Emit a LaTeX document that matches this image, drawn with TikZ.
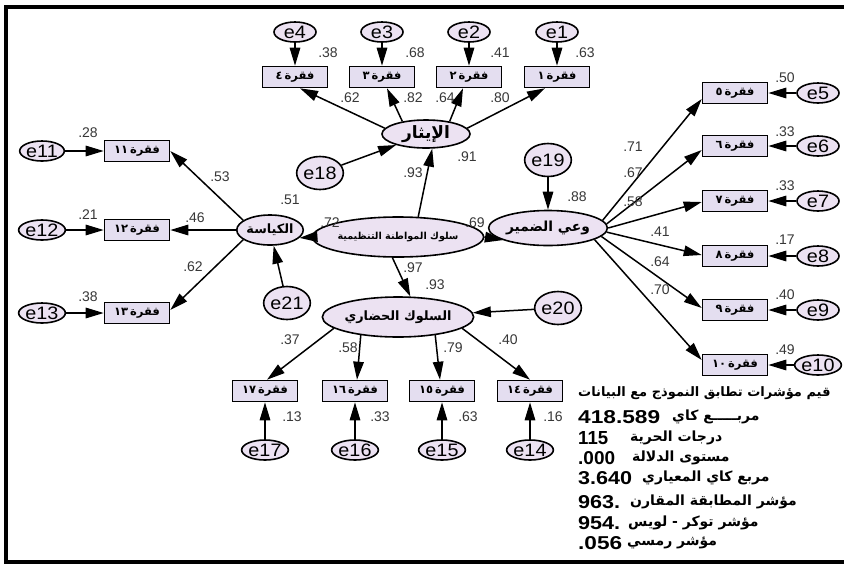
\documentclass[tikz,border=0pt]{standalone}
\usepackage{fontspec}
\setmainfont{Liberation Sans}
\newfontfamily\arfont[Script=Arabic]{DejaVu Sans}
\newfontfamily\widesans[FakeStretch=1.1]{Liberation Sans}
\TeXXeTstate=1
\usetikzlibrary{arrows.meta,shapes.geometric,calc}
\definecolor{efill}{RGB}{236,226,242}
\definecolor{ifill}{RGB}{228,222,240}
\definecolor{labc}{RGB}{55,55,55}
\newcommand\arw[2]{\resizebox{#1pt}{!}{\arfont\bfseries #2}}
\newcommand\itm[1]{{\arfont\bfseries #1\,\beginR فقرة\endR}}
\newcommand\numw[2]{\resizebox{#1pt}{13pt}{\bfseries #2}}
\begin{document}
\begin{tikzpicture}[x=1pt,y=-1pt,
  lat/.style={ellipse,draw,line width=1.6pt,fill=efill,inner sep=0pt},
  err/.style={ellipse,draw,line width=1.6pt,fill=efill,inner sep=0pt,minimum width=42pt,minimum height=20pt,font=\widesans\fontsize{18}{18}\selectfont},
  errc/.style={err,minimum width=36pt,minimum height=33pt},
  itembox/.style={rectangle,draw,line width=1.6pt,fill=ifill,inner sep=0pt,minimum width=65pt,minimum height=21pt,font=\fontsize{11.5}{11.5}\selectfont},
  lbl/.style={inner sep=0pt,text=labc,font=\fontsize{14}{14}\selectfont},
  arr/.style={draw,line width=1.5pt,-{Triangle[length=18pt,width=10.5pt]}},
  tnum/.style={anchor=west,inner sep=0pt},
  tlab/.style={anchor=west,inner sep=0pt,font=\arfont\bfseries\fontsize{14}{14}\selectfont},
  ttitle/.style={anchor=west,inner sep=0pt,font=\arfont\bfseries\fontsize{13}{13}\selectfont}
]
\useasboundingbox (0,0) rectangle (844,566);
\fill[white] (0,0) rectangle (844,566);
\draw[line width=4pt] (844,6.5) -- (5.5,6.5) -- (5.5,562) -- (844,562);

% latent variables
\node[lat,minimum width=88pt,minimum height=28pt] (ius) at (426,134) {\arw{48}{\beginR الإيثار\endR}};
\node[lat,minimum width=60pt,minimum height=30pt] (k) at (270,230) {\arw{47}{\beginR الكياسة\endR}};
\node[lat,minimum width=130pt,minimum height=40pt] (c) at (398,237) {\arw{121}{\beginR سلوك المواطنة التنظيمية\endR}};
\node[lat,minimum width=93pt,minimum height=35pt] (wd) at (548,228) {\arw{84}{\beginR وعي الضمير\endR}};
\node[lat,minimum width=130pt,minimum height=40pt] (sh) at (398,317) {\arw{107}{\beginR السلوك الحضاري\endR}};

% top items
\node[itembox] (i4) at (295,77) {\itm{٤}};
\node[itembox] (i3) at (382,77) {\itm{٣}};
\node[itembox] (i2) at (469,77) {\itm{٢}};
\node[itembox] (i1) at (557,77) {\itm{١}};
\node[err] (e4) at (295,32) {e4};
\node[err] (e3) at (382,32) {e3};
\node[err] (e2) at (469,32) {e2};
\node[err] (e1) at (557,32) {e1};

% left items
\node[itembox] (i11) at (137,151) {\itm{١١}};
\node[itembox] (i12) at (137,230) {\itm{١٢}};
\node[itembox] (i13) at (137,313) {\itm{١٣}};
\node[err] (e11) at (42,151) {e11};
\node[err] (e12) at (42,230) {e12};
\node[err] (e13) at (42,313) {e13};

% right items
\node[itembox] (i5) at (735,93) {\itm{٥}};
\node[itembox] (i6) at (735,146) {\itm{٦}};
\node[itembox] (i7) at (735,201) {\itm{٧}};
\node[itembox] (i8) at (735,256) {\itm{٨}};
\node[itembox] (i9) at (735,310) {\itm{٩}};
\node[itembox] (i10) at (735,365) {\itm{١٠}};
\node[err] (e5) at (818,93) {e5};
\node[err] (e6) at (818,146) {e6};
\node[err] (e7) at (818,201) {e7};
\node[err] (e8) at (818,256) {e8};
\node[err] (e9) at (818,310) {e9};
\node[err] (e10) at (818,365) {e10};

% bottom items
\node[itembox] (i17) at (265,391) {\itm{١٧}};
\node[itembox] (i16) at (355,391) {\itm{١٦}};
\node[itembox] (i15) at (442,391) {\itm{١٥}};
\node[itembox] (i14) at (530,391) {\itm{١٤}};
\node[err] (e17) at (265,450) {e17};
\node[err] (e16) at (355,450) {e16};
\node[err] (e15) at (442,450) {e15};
\node[err] (e14) at (530,450) {e14};

% disturbances
\node[errc] (e18) at (320,173) {e18};
\node[errc] (e19) at (548,160) {e19};
\node[errc] (e20) at (558,308) {e20};
\node[errc] (e21) at (287,303) {e21};

% arrows top
\foreach \n in {1,2,3,4} {\draw[arr] (e\n) -- (i\n);}
\draw[arr] (ius.172) -- ($(i4.south)+(5,0)$);
\draw[arr] (ius.152) -- ($(i3.south)+(5,0)$);
\draw[arr] (ius.28) -- ($(i2.south)+(-6,0)$);
\draw[arr] (ius.8) -- ($(i1.south)+(-12,0)$);
\draw[arr] (e18) -- (ius);
\draw[arr] (c.45) -- (ius.-67);

% left
\foreach \n in {11,12,13} {\draw[arr] (e\n) -- (i\n);}
\draw[arr] (k.160) -- (i11.east);
\draw[arr] (k.west) -- (i12.east);
\draw[arr] (k.200) -- ($(i13.east)+(0,-3)$);
\draw[arr] (e21) -- (k);
\draw[arr] (c.west) -- (k.-15);

% right
\foreach \n in {5,6,7,8,9,10} {\draw[arr] (e\n) -- (i\n);}
\draw[arr] (wd.8) -- ($(i5.west)+(0,6)$);
\draw[arr] (wd.4) -- ($(i6.west)+(0,4)$);
\draw[arr] (wd.0) -- ($(i7.west)+(0,1)$);
\draw[arr] (wd.-4) -- ($(i8.west)+(0,-1)$);
\draw[arr] (wd.-9) -- ($(i9.west)+(0,-2)$);
\draw[arr] (wd.-14) -- ($(i10.west)+(0,-5)$);
\draw[arr] (e19) -- (wd);
\draw[arr] (c.east) -- (wd.195);

% bottom
\foreach \n in {14,15,16,17} {\draw[arr] (e\n) -- (i\n);}
\draw[arr] (sh.-170) -- ($(i17.north)+(2,0)$);
\draw[arr] (sh.-154) -- ($(i16.north)+(2,0)$);
\draw[arr] (sh.-26) -- ($(i15.north)+(-2,0)$);
\draw[arr] (sh.-10) -- (i14.north);
\draw[arr] (e20) -- (sh);
\draw[arr] (c.-105) -- (sh.59);

% labels
\node[lbl] (l1) at (328,53) {.38};
\node[lbl] (l2) at (415,53) {.68};
\node[lbl] (l3) at (500,53) {.41};
\node[lbl] (l4) at (585,53) {.63};
\node[lbl] (l5) at (350,98) {.62};
\node[lbl] (l6) at (413,98) {.82};
\node[lbl] (l7) at (445,98) {.64};
\node[lbl] (l8) at (500,98) {.80};
\node[lbl] (l9) at (467,157) {.91};
\node[lbl] (l10) at (413,173) {.93};
\node[lbl] (l11) at (88,133) {.28};
\node[lbl] (l12) at (88,215) {.21};
\node[lbl] (l13) at (88,297) {.38};
\node[lbl] (l14) at (220,177) {.53};
\node[lbl] (l15) at (195,218) {.46};
\node[lbl] (l16) at (193,267) {.62};
\node[lbl] (l17) at (290,200) {.51};
\node[lbl] (l18) at (330,223) {.72};
\node[lbl] (l19) at (475,223) {.69};
\node[lbl] (l20) at (413,268) {.97};
\node[lbl] (l21) at (435,285) {.93};
\node[lbl] (l22) at (577,197) {.88};
\node[lbl] (l23) at (633,147) {.71};
\node[lbl] (l24) at (633,173) {.67};
\node[lbl] (l25) at (633,202) {.58};
\node[lbl] (l26) at (660,232) {.41};
\node[lbl] (l27) at (660,262) {.64};
\node[lbl] (l28) at (660,290) {.70};
\node[lbl] (l29) at (785,78) {.50};
\node[lbl] (l30) at (785,132) {.33};
\node[lbl] (l31) at (785,186) {.33};
\node[lbl] (l32) at (785,240) {.17};
\node[lbl] (l33) at (785,295) {.40};
\node[lbl] (l34) at (785,350) {.49};
\node[lbl] (l35) at (290,340) {.37};
\node[lbl] (l36) at (348,348) {.58};
\node[lbl] (l37) at (453,348) {.79};
\node[lbl] (l38) at (508,340) {.40};
\node[lbl] (l39) at (292,417) {.13};
\node[lbl] (l40) at (380,417) {.33};
\node[lbl] (l41) at (468,417) {.63};
\node[lbl] (l42) at (553,417) {.16};

% fit table
\node[ttitle] (t0) at (578,393) {\beginR قيم مؤشرات تطابق النموذج مع البيانات\endR};
\node[tnum] (n1) at (578,417) {\numw{82}{418.589}};
\node[tlab] (a1) at (672,417) {\beginR مربـــــع كاي\endR};
\node[tnum] (n2) at (578,438) {\numw{30}{115}};
\node[tlab] (a2) at (630,438) {\beginR درجات الحرية\endR};
\node[tnum] (n3) at (578,458) {\numw{37}{.000}};
\node[tlab] (a3) at (632,458) {\beginR مستوى الدلالة\endR};
\node[tnum] (n4) at (578,478) {\numw{54}{3.640}};
\node[tlab] (a4) at (642,478) {\beginR مربع كاي المعياري\endR};
\node[tnum] (n5) at (578,502) {\numw{42}{963.}};
\node[tlab] (a5) at (630,502) {\beginR مؤشر المطابقة المقارن\endR};
\node[tnum] (n6) at (578,523) {\numw{42}{954.}};
\node[tlab] (a6) at (628,523) {\beginR مؤشر توكر - لويس\endR};
\node[tnum] (n7) at (578,543) {\numw{44}{.056}};
\node[tlab] (a7) at (627,543) {\beginR مؤشر رمسي\endR};
\end{tikzpicture}
\end{document}
